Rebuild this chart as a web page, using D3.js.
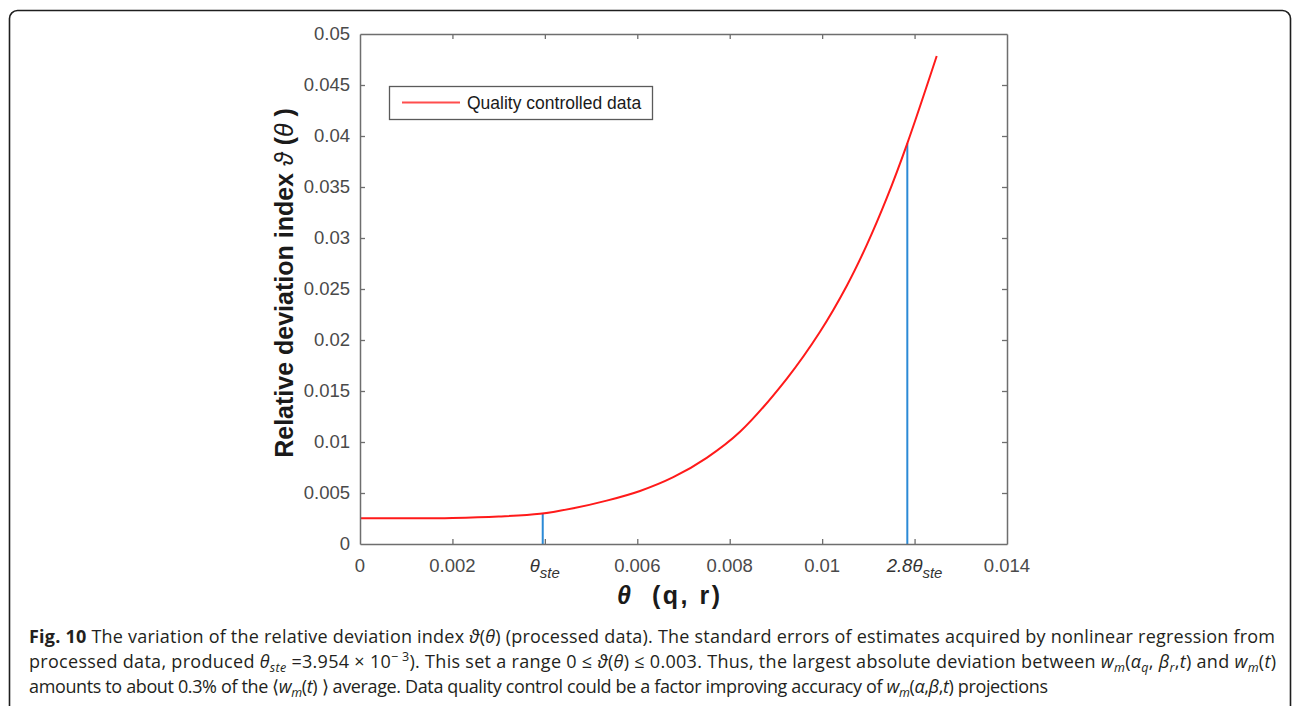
<!DOCTYPE html>
<html>
<head>
<meta charset="utf-8">
<script src="https://cdn.jsdelivr.net/npm/d3@7"></script>
<style>
  body { margin: 0; background: #fff; }
  svg { display: block; }
</style>
</head>
<body>
<svg id="chart" width="1292" height="706"></svg>
<script>
// Relative deviation index versus theta (quality controlled data)
const thetaValues = [0, 0.001, 0.002, 0.003, 0.003895, 0.004615, 0.005338, 0.006059, 0.006779,
  0.007502, 0.008223, 0.009233, 0.009954, 0.010531, 0.010964, 0.011397, 0.011843, 0.012479];
const deviationValues = [0.00252, 0.00252, 0.00256, 0.00270, 0.00296, 0.00350, 0.00425, 0.00520, 0.00655,
  0.00845, 0.01100, 0.01620, 0.02081, 0.02530, 0.02930, 0.03390, 0.03928, 0.04784];

// Vertical markers at theta_ste and the upper bound
const markerTheta = [0.003954, 0.011843];
const markerDeviation = [0.00300, 0.03928];

const xTickValues = [0, 0.002, 0.004, 0.006, 0.008, 0.01, 0.012, 0.014];
const xTickLabels = ["0", "0.002", "θ_ste", "0.006", "0.008", "0.01", "2.8θ_ste", "0.014"];
const yTickValues = [0, 0.005, 0.01, 0.015, 0.02, 0.025, 0.03, 0.035, 0.04, 0.045, 0.05];
const yTickLabels = ["0", "0.005", "0.01", "0.015", "0.02", "0.025", "0.03", "0.035", "0.04", "0.045", "0.05"];
const legendLabels = ["Quality controlled data"];

const svg = d3.select("#chart");
const plot = { left: 360, right: 1007, top: 34, bottom: 544 };

const x = d3.scaleLinear().domain([0, 0.014]).range([plot.left, plot.right]);
const y = d3.scaleLinear().domain([0, 0.05]).range([plot.bottom, plot.top]);

const axisColor = "#6e6e6e";
const labelColor = "#4a4a4a";
const tickFont = "'Liberation Sans', Arial, sans-serif";

// Rounded outer frame of the figure panel
svg.append("rect")
  .attr("x", 9.5).attr("y", 10.5)
  .attr("width", 1281).attr("height", 760)
  .attr("rx", 8).attr("ry", 8)
  .attr("fill", "none").attr("stroke", "#1e1e1e").attr("stroke-width", 1.6);

// Curve
const line = d3.line()
  .x((d, i) => x(thetaValues[i]))
  .y((d, i) => y(deviationValues[i]))
  .curve(d3.curveCatmullRom.alpha(0.5));

// Markers
svg.append("g").selectAll("line")
  .data(markerTheta)
  .join("line")
  .attr("x1", d => x(d)).attr("x2", d => x(d))
  .attr("y1", y(0)).attr("y2", (d, i) => y(markerDeviation[i]))
  .attr("stroke", "#2b8ad6").attr("stroke-width", 2);

svg.append("path")
  .datum(deviationValues)
  .attr("d", line)
  .attr("fill", "none")
  .attr("stroke", "#ff1a1a")
  .attr("stroke-width", 2);

// Axes (ticks pointing inward, box on all sides)
const tickLen = 5;
const fmtX = (d, i) => xTickLabels[i];

const gBottom = svg.append("g")
  .attr("transform", `translate(0,${plot.bottom})`)
  .call(d3.axisBottom(x).tickValues(xTickValues).tickSizeInner(-tickLen).tickSizeOuter(0).tickFormat(() => ""));
const gTop = svg.append("g")
  .attr("transform", `translate(0,${plot.top})`)
  .call(d3.axisTop(x).tickValues(xTickValues).tickSizeInner(-tickLen).tickSizeOuter(0).tickFormat(() => ""));
const gLeft = svg.append("g")
  .attr("transform", `translate(${plot.left},0)`)
  .call(d3.axisLeft(y).tickValues(yTickValues).tickSizeInner(-tickLen).tickSizeOuter(0).tickFormat(() => ""));
const gRight = svg.append("g")
  .attr("transform", `translate(${plot.right},0)`)
  .call(d3.axisRight(y).tickValues(yTickValues).tickSizeInner(-tickLen).tickSizeOuter(0).tickFormat(() => ""));

[gBottom, gTop, gLeft, gRight].forEach(g => {
  g.selectAll("path.domain").attr("stroke", axisColor).attr("stroke-width", 1.5);
  g.selectAll(".tick line").attr("stroke", axisColor).attr("stroke-width", 1.3);
});
// First/last ticks sit on the frame; hide duplicates at the corners
gTop.selectAll(".tick").filter((d, i) => i === 0 || i === xTickValues.length - 1).remove();
gRight.selectAll(".tick").filter((d, i) => i === 0 || i === yTickValues.length - 1).remove();
gBottom.selectAll(".tick").filter((d, i) => i === 0 || i === xTickValues.length - 1).select("line").remove();
gLeft.selectAll(".tick").filter((d, i) => i === 0 || i === yTickValues.length - 1).select("line").remove();

// Y tick labels
svg.append("g").selectAll("text")
  .data(yTickValues)
  .join("text")
  .attr("x", plot.left - 10)
  .attr("y", d => y(d))
  .attr("dy", "0.35em")
  .attr("text-anchor", "end")
  .attr("font-family", tickFont)
  .attr("font-size", 18.5)
  .attr("fill", labelColor)
  .text((d, i) => yTickLabels[i]);

// X tick labels (with subscript for theta_ste)
const xLab = svg.append("g").selectAll("text")
  .data(xTickValues)
  .join("text")
  .attr("x", d => x(d))
  .attr("y", 572)
  .attr("text-anchor", "middle")
  .attr("font-family", tickFont)
  .attr("font-size", 18.5)
  .attr("fill", labelColor);
xLab.each(function (d, i) {
  const t = d3.select(this);
  const parts = fmtX(d, i).split("_");
  if (parts.length === 1) {
    t.text(parts[0]);
  } else {
    t.attr("font-style", "italic").attr("fill", "#333");
    t.append("tspan").text(parts[0]);
    t.append("tspan").attr("dy", 6).attr("font-size", 15).text(parts[1]);
  }
});

// Axis titles
const yTitle = svg.append("text")
  .attr("transform", `translate(293,${(plot.top + plot.bottom) / 2 - 6}) rotate(-90)`)
  .attr("text-anchor", "middle")
  .attr("font-family", tickFont)
  .attr("font-size", 25)
  .attr("font-weight", "bold")
  .attr("fill", "#1a1a1a")
  .attr("xml:space", "preserve");
yTitle.append("tspan").text("Relative deviation index ");
yTitle.append("tspan").attr("font-style", "italic").attr("font-weight", "normal").text("ϑ");
yTitle.append("tspan").text(" (");
yTitle.append("tspan").attr("font-style", "italic").attr("font-weight", "normal").text("θ");
yTitle.append("tspan").text(" )");

const xTitle = svg.append("text")
  .attr("x", 617)
  .attr("y", 604)
  .attr("font-family", tickFont)
  .attr("font-size", 25)
  .attr("font-weight", "bold")
  .attr("fill", "#1a1a1a");
xTitle.append("tspan").attr("font-style", "italic").text("θ");
xTitle.append("tspan").attr("x", 652).attr("letter-spacing", 2.5).text("(q, r)");

// Legend
const legend = svg.append("g");
legend.append("rect")
  .attr("x", 389.5).attr("y", 86.5).attr("width", 263).attr("height", 33)
  .attr("fill", "#fff").attr("stroke", "#5a5a5a").attr("stroke-width", 1.3);
legend.selectAll("line").data(legendLabels).join("line")
  .attr("x1", 402).attr("x2", 460).attr("y1", 102.5).attr("y2", 102.5)
  .attr("stroke", "#ff4d4d").attr("stroke-width", 2);
legend.selectAll("text").data(legendLabels).join("text")
  .attr("x", 467).attr("y", 109)
  .attr("font-family", tickFont).attr("font-size", 17.5).attr("fill", "#1a1a1a")
  .text(d => d);

// Caption
const capFont = "'Open Sans', 'Noto Sans', sans-serif";
const I = t => ({ t, i: true });
const SUB = t => ({ t, i: true, sub: true });
const captionLines = [
  { x: 29, y: 643, w: 1246, parts: [{ t: "Fig. 10", b: true }, " The variation of the relative deviation index ", I("ϑ"), "(", I("θ"), ") (processed data). The standard errors of estimates acquired by nonlinear regression from"] },
  { x: 29, y: 668, w: 1247, parts: ["processed data, produced ", I("θ"), SUB("ste"), " =3.954 × 10", { t: "− 3", sup: true }, "). This set a range 0 ≤ ", I("ϑ"), "(", I("θ"), ") ≤ 0.003. Thus, the largest absolute deviation between ", I("w"), SUB("m"), "(", I("α"), SUB("q"), ", ", I("β"), SUB("r"), ",", I("t"), ") and ", I("w"), SUB("m"), "(", I("t"), ")"] },
  { x: 29, y: 693, w: 1019, parts: ["amounts to about 0.3% of the ⟨", I("w"), SUB("m"), "(", I("t"), ") ⟩ average. Data quality control could be a factor improving accuracy of ", I("w"), SUB("m"), "(", I("α"), ",", I("β"), ",", I("t"), ") projections"] }
];
captionLines.forEach(ln => {
  const t = svg.append("text")
    .attr("x", ln.x).attr("y", ln.y)
    .attr("font-family", capFont).attr("font-size", 18).attr("fill", "#231f20")
    .attr("textLength", ln.w).attr("lengthAdjust", "spacing")
    .attr("xml:space", "preserve");
  let shift = 0;
  ln.parts.forEach(p => {
    const part = typeof p === "string" ? { t: p } : p;
    const target = part.sub ? 4 : part.sup ? -7 : 0;
    const s = t.append("tspan").attr("dy", target - shift).text(part.t);
    shift = target;
    if (part.b) s.attr("font-weight", "bold");
    if (part.i) s.attr("font-style", "italic");
    if (part.sub || part.sup) s.attr("font-size", 12.5);
  });
});
</script>
</body>
</html>
